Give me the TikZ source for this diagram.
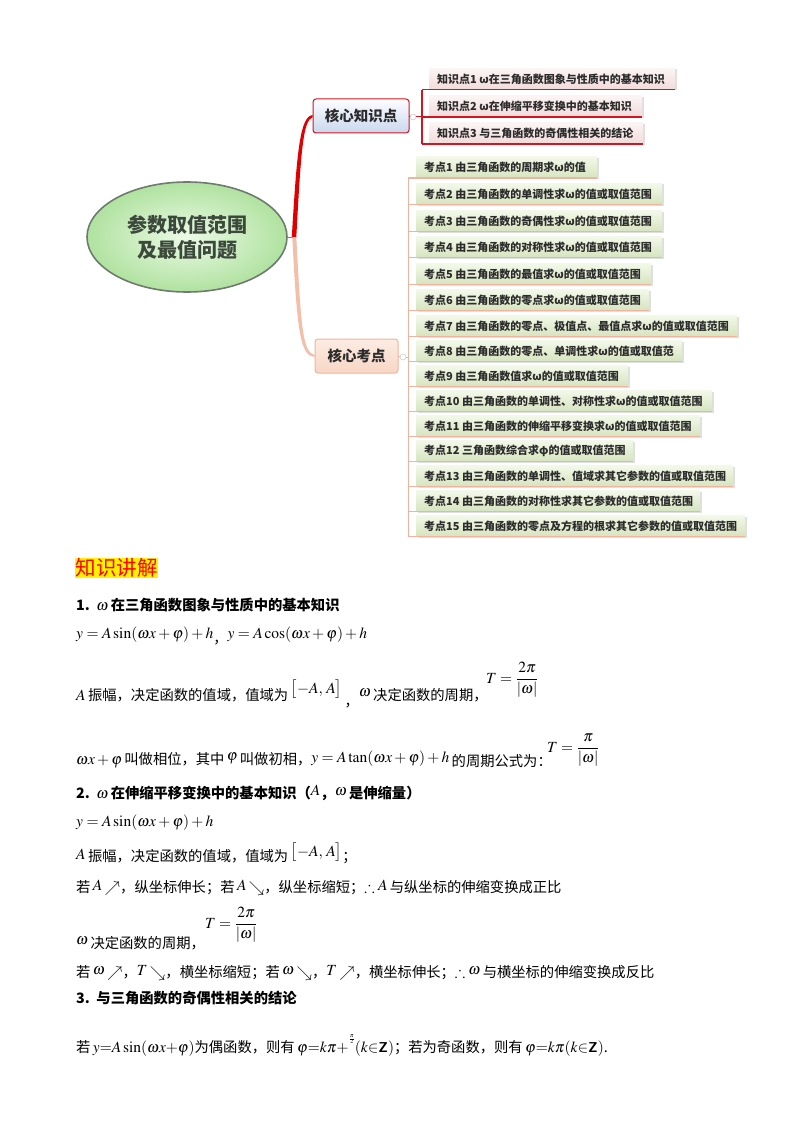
\documentclass[tikz,border=0pt]{standalone}
\usepackage{mathptmx}
\usepackage{amsmath,amssymb}
\usepackage{fontspec}
\setmainfont{Noto Sans CJK SC}
\usetikzlibrary{shapes.geometric,shadows,calc}
\definecolor{bred}{HTML}{E00000}
\definecolor{peach}{HTML}{F4BFA8}
\definecolor{kzline}{HTML}{D4141E}
\definecolor{kdl}{HTML}{F2B39C}
\definecolor{mmtext}{HTML}{2B2B2B}
\newcommand{\m}[1]{{\fontsize{15.5}{17}\selectfont$#1$}}
\tikzset{
  txt/.style={anchor=base west, inner sep=0pt, font=\fontsize{14.3}{16}\selectfont, text=black},
  hubA/.style={draw=kzline, line width=1pt, rounded corners=3pt, top color=white!90!blue!5, bottom color={rgb,255:red,201;green,215;blue,239}, minimum width=96, minimum height=34, font=\bfseries\fontsize{14.5}{17}\selectfont, text=mmtext},
  hubB/.style={draw=kdl, line width=1pt, rounded corners=3pt, top color={rgb,255:red,252;green,236;blue,227}, bottom color={rgb,255:red,248;green,214;blue,198}, minimum width=83, minimum height=34, font=\bfseries\fontsize{14.5}{17}\selectfont, text=mmtext},
  kzbox/.style={inner sep=0pt, minimum height=21, top color={rgb,255:red,252;green,244;blue,244}, bottom color={rgb,255:red,242;green,218;blue,218}, drop shadow={shadow xshift=1.5pt, shadow yshift=-1pt, opacity=0.25}},
  kdbox/.style={inner sep=0pt, minimum height=21, top color={rgb,255:red,243;green,248;blue,233}, bottom color={rgb,255:red,214;green,228;blue,191}, drop shadow={shadow xshift=1.5pt, shadow yshift=-1pt, opacity=0.25}},
  mmt/.style={anchor=west, inner sep=0pt, xshift=8pt, font=\bfseries\fontsize{11}{13}\selectfont, text=mmtext},
  kzl/.style={draw=kzline, line width=1.6pt},
  kdln/.style={draw=kdl, line width=1.4pt},
  tog/.style={circle, draw=gray!40, fill=white, line width=0.6pt, minimum size=6pt, inner sep=0pt}
}
\newcommand{\kzitem}[4]{%
  \node[kzbox, minimum width={#3-429}, anchor=west] (#1) at (429,#2) {};
  \node[mmt] (#1t) at (#1.west) {#4};
  \draw[kzl] ($(#1.south west)+(-7,0)$) -- (#1.south east);}
\newcommand{\kditem}[4]{%
  \node[kdbox, minimum width={#3-416}, anchor=west] (#1) at (416,#2) {};
  \node[mmt] (#1t) at (#1.west) {#4};
  \draw[kdln] ($(#1.south west)+(-8,0)$) -- (#1.south east);}
\begin{document}
\begin{tikzpicture}[x=1pt,y=-1pt]
\useasboundingbox (0,0) rectangle (800,1134);
\fill[white] (0,0) rectangle (800,1134);

% ---------- mind map ----------
\node[ellipse, minimum width=200, minimum height=110, draw={rgb,255:red,110;green,123;blue,110}, line width=1.6pt,
  inner color={rgb,255:red,236;green,250;blue,230}, outer color={rgb,255:red,176;green,226;blue,160},
  align=center, font=\bfseries\fontsize{20}{25}\selectfont, text={rgb,255:red,60;green,72;blue,60}] (root) at (187,237) {参数取值范围\\及最值问题};
\node[hubA] (k1) at (361,116) {核心知识点};
\node[hubB] (k2) at (356.5,356) {核心考点};
\coordinate (j) at ($(root.east)+(6,0)$);
\draw[gray, line width=1pt] (root.east) -- (j);
\fill[bred] ($(j)+(-2,0)$) .. controls (297,150) and (300,117) .. ($(k1.west)+(0,-1)$) -- ($(k1.west)+(0,1.2)$) .. controls (303,121) and (301,150) .. ($(j)+(2.5,0)$) -- cycle;
\fill[peach] ($(j)+(-1.5,0)$) .. controls (297,330) and (300,356) .. ($(k2.west)+(0,1)$) -- ($(k2.west)+(0,-1)$) .. controls (303,352) and (301,330) .. ($(j)+(2.5,0)$) -- cycle;

\node[tog] (c1) at (413,117) {};
\node[tog] (c2) at (403,357) {};

% knowledge points
\kzitem{kz1}{79}{675}{知识点1 ω在三角函数图象与性质中的基本知识}
\kzitem{kz2}{106.5}{642}{知识点2 ω在伸缩平移变换中的基本知识}
\kzitem{kz3}{133.5}{643}{知识点3 与三角函数的奇偶性相关的结论}
\draw[kzl, rounded corners=3pt] ($(kz1.south west)+(-7,0)$) -- ($(kz3.south west)+(-7,0)$);
\draw[draw=kzline, line width=1pt] (k1.east) -- (c1.west);
\draw[draw=kzline, line width=1pt] (c1.east) -- ($(c1.east -| kz1.west)+(-7,0)$);

% exam points
\kditem{kd1}{167.5}{597}{考点1 由三角函数的周期求ω的值}
\kditem{kd2}{194}{662}{考点2 由三角函数的单调性求ω的值或取值范围}
\kditem{kd3}{221}{662}{考点3 由三角函数的奇偶性求ω的值或取值范围}
\kditem{kd4}{247}{662}{考点4 由三角函数的对称性求ω的值或取值范围}
\kditem{kd5}{274}{651}{考点5 由三角函数的最值求ω的值或取值范围}
\kditem{kd6}{300}{649}{考点6 由三角函数的零点求ω的值或取值范围}
\kditem{kd7}{326}{737}{考点7 由三角函数的零点、极值点、最值点求ω的值或取值范围}
\kditem{kd8}{351}{682}{考点8 由三角函数的零点、单调性求ω的值或取值范}
\kditem{kd9}{376}{628}{考点9 由三角函数值求ω的值或取值范围}
\kditem{kd10}{401}{712}{考点10 由三角函数的单调性、对称性求ω的值或取值范围}
\kditem{kd11}{426}{700}{考点11 由三角函数的伸缩平移变换求ω的值或取值范围}
\kditem{kd12}{451}{633}{考点12 三角函数综合求φ的值或取值范围}
\kditem{kd13}{476}{733}{考点13 由三角函数的单调性、值域求其它参数的值或取值范围}
\kditem{kd14}{501}{700}{考点14 由三角函数的对称性求其它参数的值或取值范围}
\kditem{kd15}{526}{745}{考点15 由三角函数的零点及方程的根求其它参数的值或取值范围}
\draw[draw=kdl, line width=1pt] ($(kd1.south west)+(-8,0)$) -- ($(kd15.south west)+(-8,0)$);
\draw[draw=kdl, line width=1pt] (k2.east) -- (c2.west);
\draw[draw=kdl, line width=1pt] (c2.east) -- ($(c2.east -| kd1.west)+(-8,0)$);

% ---------- text ----------
\node[anchor=north west, fill=yellow, inner sep=0.5pt, text=red, font=\fontsize{20.5}{22}\selectfont] (head) at (75,558) {知识讲解};

\node[txt] (l1) at (76,610) {\bfseries 1.\ \ \m{\omega}\,在三角函数图象与性质中的基本知识};
\node[txt] (l2) at (76,638) {\m{y=A\sin(\omega x+\varphi)+h}\raisebox{-5pt}{，}\m{y=A\cos(\omega x+\varphi)+h}};
\node[txt] (l3) at (76,700) {\m{A}\,振幅，决定函数的值域，值域为\,\raisebox{7pt}{\m{\bigl[-A,\,A\bigr]}}\,\raisebox{-6pt}{，}\raisebox{4pt}{\m{\omega}}\,决定函数的周期，};
\node[txt] (f1) at (486,683) {\m{T=\dfrac{2\pi}{\left|\omega\right|}}};
\node[txt] (l4) at (76,764) {\m{\omega x+\varphi}\,叫做相位，其中\,\raisebox{4pt}{\m{\varphi}}\,叫做初相，\raisebox{2pt}{\m{y=A\tan(\omega x+\varphi)+h}}\,\raisebox{-2pt}{的周期公式为：}};
\node[txt] (f2) at (547,752) {\m{T=\dfrac{\pi}{\left|\omega\right|}}};

\node[txt] (l5) at (76,798) {\bfseries 2.\ \ \m{\omega}\,在伸缩平移变换中的基本知识（\raisebox{3pt}{\m{A}}，\raisebox{3pt}{\m{\omega}}\,是伸缩量）};
\node[txt] (l6) at (76,826) {\m{y=A\sin(\omega x+\varphi)+h}};
\node[txt] (l7) at (76,861) {\raisebox{2pt}{\m{A}}\,振幅，决定函数的值域，值域为\,\raisebox{5pt}{\m{\bigl[-A,\,A\bigr]}}；};
\node[txt] (l8) at (76,892) {若\,\raisebox{2pt}{\m{A}}\,\m{\nearrow}，纵坐标伸长；若\,\raisebox{2pt}{\m{A}}\,\m{\searrow}，纵坐标缩短；\m{\therefore}\ \raisebox{2pt}{\m{A}}\,与纵坐标的伸缩变换成正比};
\node[txt] (f3) at (205,928) {\m{T=\dfrac{2\pi}{\left|\omega\right|}}};
\node[txt] (l9) at (76,948) {\raisebox{4pt}{\m{\omega}}\,决定函数的周期，};
\node[txt] (l10) at (76,977) {若\,\raisebox{3pt}{\m{\omega}}\,\m{\nearrow}，\raisebox{2pt}{\m{T}}\,\m{\searrow}，横坐标缩短；若\,\raisebox{3pt}{\m{\omega}}\,\m{\searrow}，\raisebox{2pt}{\m{T}}\,\m{\nearrow}，横坐标伸长；\m{\therefore}\ \raisebox{3pt}{\m{\omega}}\,与横坐标的伸缩变换成反比};
\node[txt] (l11) at (76,1003) {\bfseries 3.\ \ 与三角函数的奇偶性相关的结论};
\node[txt] (l12) at (76,1052) {若\,\m{y{=}A\sin(\omega x{+}\varphi)}为偶函数，则有\,\m{\varphi{=}k\pi{+}}\raisebox{11pt}{\fontsize{8}{9}\selectfont$\frac{\pi}{2}$}\m{(k{\in}}\textsf{\bfseries Z}\m{)}；若为奇函数，则有\,\m{\varphi{=}k\pi(k{\in}}\textsf{\bfseries Z}\m{)}.};
\end{tikzpicture}
\end{document}
